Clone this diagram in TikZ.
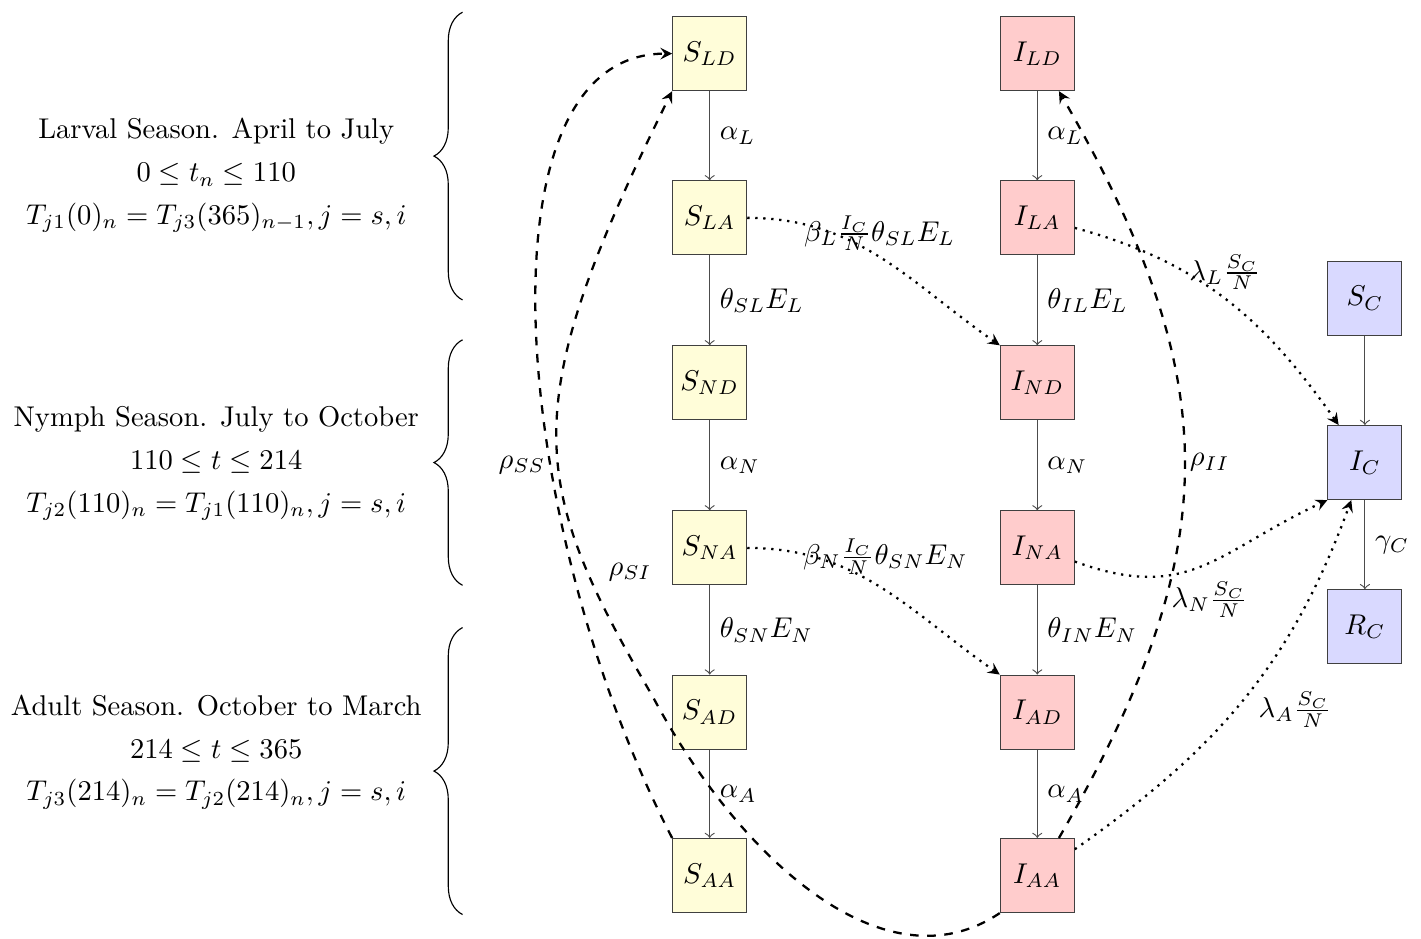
\documentclass[tikz,border=0pt]{standalone}
\usetikzlibrary{decorations.pathreplacing}

\begin{document}
\begin{tikzpicture}[
    comp/.style={rectangle,draw=black!75,minimum size=0.91cm,inner sep=0pt},
    sbox/.style={comp,fill=yellow!15},
    ibox/.style={comp,fill=red!20},
    cbox/.style={comp,fill=blue!15},
    flow/.style={->,draw=black!70},
    carry/.style={-stealth,thick,dashed},
    infect/.style={-stealth,thick,dotted},
    season/.style={align=center}
]
\useasboundingbox (0,0) rectangle (17.48,-11.55);

% susceptible ticks
\node[sbox] (SLD) at (8.73,-0.66) {$S_{LD}$};
\node[sbox] (SLA) at (8.73,-2.68) {$S_{LA}$};
\node[sbox] (SND) at (8.73,-4.71) {$S_{ND}$};
\node[sbox] (SNA) at (8.73,-6.74) {$S_{NA}$};
\node[sbox] (SAD) at (8.73,-8.76) {$S_{AD}$};
\node[sbox] (SAA) at (8.73,-10.77) {$S_{AA}$};

% infected ticks
\node[ibox] (ILD) at (12.76,-0.66) {$I_{LD}$};
\node[ibox] (ILA) at (12.76,-2.68) {$I_{LA}$};
\node[ibox] (IND) at (12.76,-4.71) {$I_{ND}$};
\node[ibox] (INA) at (12.76,-6.74) {$I_{NA}$};
\node[ibox] (IAD) at (12.76,-8.76) {$I_{AD}$};
\node[ibox] (IAA) at (12.76,-10.77) {$I_{AA}$};

% cattle
\node[cbox] (SC) at (16.79,-3.67) {$S_C$};
\node[cbox] (IC) at (16.79,-5.69) {$I_C$};
\node[cbox] (RC) at (16.79,-7.71) {$R_C$};

\draw[flow] (SLD) -- node[right] (aSL) {$\alpha_L$} (SLA);
\draw[flow] (SLA) -- node[right] (tSL) {$\theta_{SL}E_L$} (SND);
\draw[flow] (SND) -- node[right] (aSN) {$\alpha_N$} (SNA);
\draw[flow] (SNA) -- node[right] (tSN) {$\theta_{SN}E_N$} (SAD);
\draw[flow] (SAD) -- node[right] (aSA) {$\alpha_A$} (SAA);

\draw[flow] (ILD) -- node[right] (aIL) {$\alpha_L$} (ILA);
\draw[flow] (ILA) -- node[right] (tIL) {$\theta_{IL}E_L$} (IND);
\draw[flow] (IND) -- node[right] (aIN) {$\alpha_N$} (INA);
\draw[flow] (INA) -- node[right] (tIN) {$\theta_{IN}E_N$} (IAD);
\draw[flow] (IAD) -- node[right] (aIA) {$\alpha_A$} (IAA);

\draw[flow] (SC) -- (IC);
\draw[flow] (IC) -- node[right] (gC) {$\gamma_C$} (RC);

% infection of ticks and cattle
\draw[infect] (SLA) to[out=0,in=145] (IND.north west);
\draw[infect] (SNA) to[out=0,in=145] (IAD.north west);
\draw[infect] (ILA) to[out=-15,in=125] (IC);
\draw[infect] (INA) to[out=-20,in=205,looseness=1.2] (IC.south west);
\draw[infect] (IAA) to[out=35,in=250] (IC);

\node (bL) at (10.82,-2.87) {$\beta_L\frac{I_C}{N}\theta_{SL}E_L$};
\node (bN) at (10.89,-6.85) {$\beta_N\frac{I_C}{N}\theta_{SN}E_N$};
\node (lL) at (15.07,-3.35) {$\lambda_L\frac{S_C}{N}$};
\node (lN) at (14.88,-7.38) {$\lambda_N\frac{S_C}{N}$};
\node (lA) at (15.93,-8.73) {$\lambda_A\frac{S_C}{N}$};

% next year
\coordinate (siturn) at (8.03,-8.57);
\draw[carry] (SAA.north west) .. controls +(-1.98,3.83) and +(-2.46,0) .. (SLD.west);
\draw[carry] (IAA.south west) .. controls +(-1.41,-0.95) and +(1.07,-2.00) .. (siturn)
    .. controls +(-1.54,2.64) and +(-1.93,-3.90) .. (SLD.south west);
\draw[carry] (IAA) to[out=60,in=-60,looseness=1.15] (ILD);

\node (rSS) at (6.42,-5.72) {$\rho_{SS}$};
\node (rSI) at (7.75,-7.04) {$\rho_{SI}$};
\node (rII) at (14.88,-5.69) {$\rho_{II}$};

% seasons
\node[season] (larval) at (2.66,-2.16) {Larval Season. April to July\\[3pt]
    $0\leq t_n\leq 110$\\[3pt] $T_{j1}(0)_n=T_{j3}(365)_{n-1}, j=s,i$};
\node[season] (nymph) at (2.66,-5.70) {Nymph Season. July to October\\[3pt]
    $110\leq t\leq 214$\\[3pt] $T_{j2}(110)_n=T_{j1}(110)_n, j=s,i$};
\node[season] (adult) at (2.66,-9.25) {Adult Season. October to March\\[3pt]
    $214\leq t\leq 365$\\[3pt] $T_{j3}(214)_n=T_{j2}(214)_n, j=s,i$};

\draw[decorate,decoration={brace,amplitude=10pt}] (5.69,-3.69) -- (5.69,-0.15);
\draw[decorate,decoration={brace,amplitude=10pt}] (5.69,-7.20) -- (5.69,-4.18);
\draw[decorate,decoration={brace,amplitude=10pt}] (5.69,-11.25) -- (5.69,-7.72);

\end{tikzpicture}
\end{document}
